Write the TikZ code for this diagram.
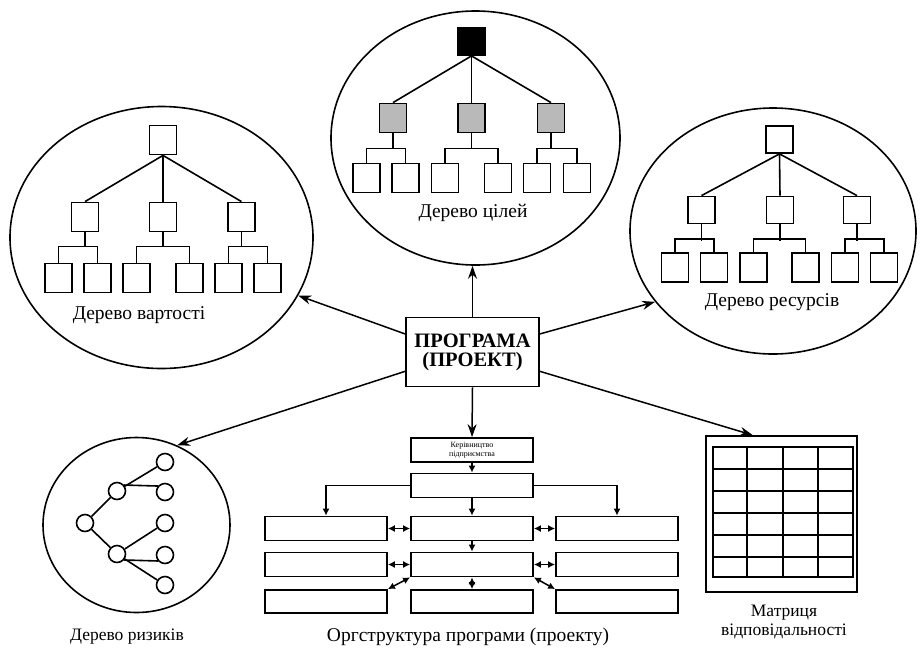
\documentclass[tikz,border=0pt]{standalone}
\usepackage{fontspec}
\setmainfont{Liberation Serif}
\usetikzlibrary{shapes.geometric,arrows.meta}
\begin{document}
\begin{tikzpicture}[x=1pt,y=-1pt,
  sq/.style={draw,line width=1.8pt,minimum width=27pt,minimum height=29pt,inner sep=0pt},
  gsq/.style={sq,fill=gray!55},
  bsq/.style={sq,fill=black,minimum height=27pt},
  ell/.style={draw,ellipse,line width=1.6pt,inner sep=0pt},
  lbl/.style={font=\fontsize{19.5}{22}\selectfont,inner sep=0pt},
  lbls/.style={font=\fontsize{17.5}{19}\selectfont,align=center,inner sep=0pt},
  bigarrow/.style={line width=1.5pt,-{Stealth[length=13pt,width=9pt]}},
  obox/.style={draw,line width=1.7pt,minimum width=122pt,minimum height=24pt,inner sep=0pt},
  sar/.style={line width=1.5pt,-{Latex[length=7pt,width=7pt]}},
  dar/.style={line width=1.5pt,{Latex[length=7pt,width=7pt]}-{Latex[length=7pt,width=7pt]}},
  rc/.style={draw,circle,line width=1.6pt,minimum size=17pt,inner sep=0pt},
  tl/.style={line width=1.6pt}
]
\useasboundingbox (0,0) rectangle (923,649);

% ---------- ellipses ----------
\node[ell,minimum width=289pt,minimum height=254pt] (ellT) at (475.5,138) {};
\node[ell,minimum width=303pt,minimum height=262pt] (ellL) at (161.5,237.5) {};
\node[ell,minimum width=286pt,minimum height=246pt] (ellR) at (773,231) {};
\node[ell,minimum width=187pt,minimum height=175pt] (circR) at (136.5,525) {};

% ---------- goal tree (top) ----------
\node[bsq] (t0) at (471.5,41.5) {};
\node[gsq] (t1) at (393,118) {};
\node[gsq] (t2) at (471.5,118) {};
\node[gsq] (t3) at (551,118) {};
\node[sq] (t11) at (366.5,178) {};
\node[sq] (t12) at (405.5,178) {};
\node[sq] (t21) at (445,178) {};
\node[sq] (t22) at (498,178) {};
\node[sq] (t31) at (537,178) {};
\node[sq] (t32) at (577,178) {};
\foreach \c in {t1,t2,t3} \draw[tl] (t0.south) -- (\c.north);
\foreach \p/\a/\b in {t1/t11/t12,t2/t21/t22,t3/t31/t32}{
  \draw[tl] (\p.south) -- ++(0,16);
  \draw[tl] (\a.north) -- ++(0,-14) -| (\b.north);
}
\node[lbl] (labT) at (473,213) {Дерево цілей};

% ---------- cost tree (left) ----------
\node[sq] (l0) at (163,140) {};
\node[sq] (l1) at (85,217) {};
\node[sq] (l2) at (163,217) {};
\node[sq] (l3) at (241.5,217) {};
\node[sq] (l11) at (58.5,278) {};
\node[sq] (l12) at (97.5,278) {};
\node[sq] (l21) at (136.5,278) {};
\node[sq] (l22) at (189.5,278) {};
\node[sq] (l31) at (228.5,278) {};
\node[sq] (l32) at (267.5,278) {};
\foreach \c in {l1,l2,l3} \draw[tl] (l0.south) -- (\c.north);
\foreach \p/\a/\b in {l1/l11/l12,l2/l21/l22,l3/l31/l32}{
  \draw[tl] (\p.south) -- ++(0,15);
  \draw[tl] (\a.north) -- ++(0,-16) -| (\b.north);
}
\node[lbl] (labL) at (139,315) {Дерево вартості};

% ---------- resource tree (right) ----------
\node[sq,minimum height=27pt] (r0) at (779.5,139.5) {};
\node[sq,minimum height=27pt] (r1) at (701.5,210) {};
\node[sq,minimum height=27pt] (r2) at (780,210) {};
\node[sq,minimum height=27pt] (r3) at (857,210) {};
\node[sq] (r11) at (675,267.5) {};
\node[sq] (r12) at (714,267.5) {};
\node[sq] (r21) at (753.5,267.5) {};
\node[sq] (r22) at (805.5,267.5) {};
\node[sq] (r31) at (845,267.5) {};
\node[sq] (r32) at (884,267.5) {};
\foreach \c in {r1,r2,r3} \draw[tl] (r0.south) -- (\c.north);
\foreach \p/\a/\b in {r1/r11/r12,r2/r21/r22,r3/r31/r32}{
  \draw[tl] (\p.south) -- ++(0,16.5);
  \draw[tl] (\a.north) -- ++(0,-13) -| (\b.north);
}
\node[lbl] (labR) at (772,302) {Дерево ресурсів};

% ---------- risk tree ----------
\node[rc] (rt) at (85,523) {};
\node[rc] (m1) at (117,491) {};
\node[rc] (m2) at (117,554) {};
\node[rc] (k1) at (165,462) {};
\node[rc] (k2) at (165,492) {};
\node[rc] (k3) at (165,523) {};
\node[rc] (k4) at (165,555) {};
\node[rc] (k5) at (165,585) {};
\draw[tl] (rt) -- (m1);
\draw[tl] (rt) -- (m2);
\draw[tl] (m1) -- (k1);
\draw[tl] (m1.40) -- (k2.140);
\draw[tl] (m2) -- (k3);
\draw[tl] (m2.-40) -- (k4.-140);
\draw[tl] (m2) -- (k5);
\node[lbls] (labK) at (127,637) {Дерево ризиків};

% ---------- central box ----------
\node[draw,line width=1.8pt,minimum width=133pt,minimum height=69pt,inner sep=0pt,align=center,
      font=\fontsize{20.5}{19}\selectfont\bfseries] (prog) at (472.5,352) {ПРОГРАМА\\(ПРОЕКТ)};

% ---------- org structure ----------
\node[obox,align=center,font=\fontsize{8}{9.5}\selectfont] (ob1) at (472,450) {Керівництво\\підприємства};
\node[obox] (ob2) at (472,485.5) {};
\node[obox] (aL) at (326,528.5) {};
\node[obox] (aC) at (472,528.5) {};
\node[obox] (aR) at (617,528.5) {};
\node[obox] (bL) at (326,564.5) {};
\node[obox] (bC) at (472,564.5) {};
\node[obox] (bR) at (617,564.5) {};
\node[obox,minimum height=23pt] (cL) at (326,601.5) {};
\node[obox,minimum height=23pt] (cC) at (472,601.5) {};
\node[obox,minimum height=23pt] (cR) at (617,601.5) {};
\draw[sar] (ob1.south) -- (ob2.north);
\draw[sar] (ob2.south) -- (aC.north);
\draw[sar] (ob2.west) -| (aL.north);
\draw[sar] (ob2.east) -| (aR.north);
\draw[dar] (aL.east) -- (aC.west);
\draw[dar] (aC.east) -- (aR.west);
\draw[dar] (bL.east) -- (bC.west);
\draw[dar] (bC.east) -- (bR.west);
\draw[sar] (aC.south) -- (bC.north);
\draw[dar] (bC.south) -- (cC.north);
\draw[dar] (bC.south west) -- (cL.north east);
\draw[dar] (bC.south east) -- (cR.north west);
\node[lbl] (labO) at (468,637) {Оргструктура програми (проекту)};

% ---------- responsibility matrix ----------
\node[draw,line width=1.7pt,minimum width=151pt,minimum height=156pt,inner sep=0pt] (mat) at (781.5,514) {};
\draw[line width=1.4pt] (713,447) rectangle (853,577);
\foreach \x in {747,783,818} \draw[line width=1.4pt] (\x,447) -- (\x,577);
\foreach \y in {469,491,513,535,557} \draw[line width=1.4pt] (713,\y) -- (853,\y);
\node[lbls] (labM) at (784,621.5) {Матриця\\відповідальності};

% ---------- main arrows ----------
\draw[bigarrow] (prog.north) -- (prog.north |- ellT.south);
\draw[bigarrow] (prog.165) -- (ellL.-23);
\draw[bigarrow] (prog.15) -- (ellR.211);
\draw[bigarrow] (prog.196) -- (circR.63);
\draw[bigarrow] (prog.south) -- (ob1.north);
\draw[bigarrow] (prog.-16) -- (mat.110.7);
\end{tikzpicture}
\end{document}
